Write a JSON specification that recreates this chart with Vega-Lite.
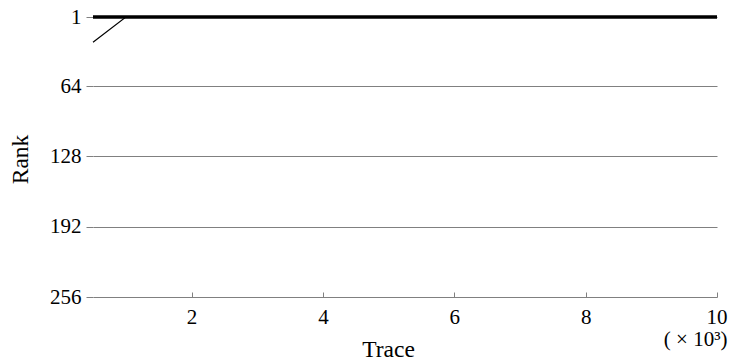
{
  "$schema": "https://vega.github.io/schema/vega-lite/v6.json",
  "autosize": "none",
  "width": 624,
  "height": 280,
  "padding": {"left": 93, "top": 17, "right": 15, "bottom": 63},
  "background": "white",
  "config": {
    "view": {"stroke": null},
    "font": "Liberation Serif",
    "axis": {
      "labelFont": "Liberation Serif",
      "titleFont": "Liberation Serif",
      "labelColor": "black",
      "titleColor": "black",
      "labelFontSize": 21,
      "titleFontSize": 23.5,
      "titleFontWeight": "normal",
      "gridColor": "#808080",
      "gridOpacity": 1,
      "tickColor": "#808080",
      "domain": false
    }
  },
  "data": {
    "values": [
      {"trace": 0.5, "rank": 1, "series": "A"},
      {"trace": 10, "rank": 1, "series": "A"},
      {"trace": 0.5, "rank": 24, "series": "B"},
      {"trace": 1.0, "rank": 1, "series": "B"},
      {"trace": 10, "rank": 1, "series": "B"}
    ]
  },
  "encoding": {
    "x": {
      "field": "trace",
      "type": "quantitative",
      "scale": {"domain": [0.5, 10], "nice": false, "zero": false},
      "axis": {
        "title": "Trace",
        "values": [2, 4, 6, 8, 10],
        "grid": false,
        "tickSize": -5,
        "labelPadding": 14,
        "labelExpr": "datum.value == 10 ? ['10', '( × 10³)'] : datum.label",
        "labelAlign": {"condition": {"test": "datum.value == 10", "value": "right"}, "value": "center"},
        "labelOffset": {"condition": {"test": "datum.value == 10", "value": 10}, "value": 0},
        "titleX": 295,
        "titleY": 59,
        "titleBaseline": "alphabetic",
        "labelLineHeight": 22
      }
    },
    "y": {
      "field": "rank",
      "type": "quantitative",
      "scale": {"domain": [1, 256], "reverse": true, "nice": false, "zero": false},
      "axis": {
        "title": "Rank",
        "values": [1, 64, 128, 192, 256],
        "grid": true,
        "tickSize": 7,
        "labelPadding": 5,
        "titleX": -66,
        "titleY": 142,
        "titleBaseline": "alphabetic"
      }
    }
  },
  "layer": [
    {
      "transform": [{"filter": "datum.series == 'B'"}],
      "mark": {"type": "line", "color": "black", "strokeWidth": 1.2}
    },
    {
      "transform": [{"filter": "datum.series == 'A'"}],
      "mark": {"type": "line", "color": "black", "strokeWidth": 3.5}
    }
  ]
}
